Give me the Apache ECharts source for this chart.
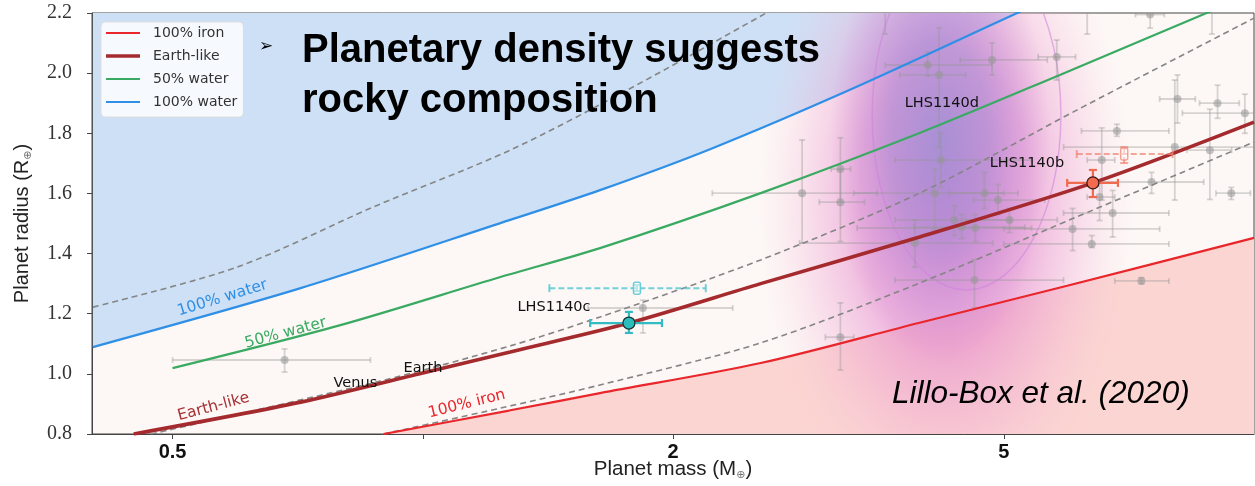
<!DOCTYPE html>
<html><head><meta charset="utf-8">
<script src="https://cdn.jsdelivr.net/npm/echarts@6/dist/echarts.min.js"></script>
<style>html,body{margin:0;padding:0;background:#fff}#c{width:1255px;height:486px}</style>
</head><body><div id="c"></div>
<script>
// ---------- data ----------
const xTickValues = [0.5, 1, 2, 5];
const xLabelValues = [0.5, 2, 5];
const yTickValues = [0.8, 1.0, 1.2, 1.4, 1.6, 1.8, 2.0, 2.2];

// composition curves [mass (M_earth), radius (R_earth)]
const ironCurve = [[0.897,0.80],[1.27,0.878],[1.634,0.936],[2.55,1.036],[3.96,1.170],[5.96,1.293],[10,1.452]];
const earthLikeCurve = [[0.449,0.80],[0.713,0.906],[1.0,1.003],[1.274,1.073],[1.77,1.169],[2.55,1.300],[3.96,1.455],[6.40,1.635],[10,1.837]];
const water50Curve = [[0.5,1.019],[0.796,1.162],[1.24,1.322],[1.634,1.418],[2.55,1.601],[3.96,1.801],[5.84,1.994],[8.77,2.2],[9.6,2.24]];
const water100Curve = [[0.401,1.089],[0.713,1.285],[1.274,1.512],[1.634,1.611],[2.22,1.748],[3.26,1.944],[5.19,2.2],[5.8,2.26]];
// iso-density dashed curves
const densityHighCurve = [[0.897,0.80],[1.24,0.886],[1.634,0.963],[2.55,1.103],[3.96,1.302],[6.12,1.522],[10,1.771]];
const densityMidCurve = [[0.471,0.80],[0.889,0.976],[1.274,1.093],[1.634,1.189],[2.55,1.379],[3.96,1.601],[6.12,1.877],[10,2.183]];
const densityLowCurve = [[0.401,1.222],[0.598,1.355],[0.872,1.555],[1.274,1.744],[1.79,1.954],[2.59,2.2],[2.75,2.24]];

// known planets: [mass, radius, massLo, massHi, radiusLo, radiusHi]
const knownPlanets = [
  [0.682,1.046,0.50,0.865,1.006,1.083],
  [1.84,1.219,1.58,2.36,1.136,1.245],
  [2.86,1.601,2.23,3.52,1.435,1.778],
  [3.18,1.681,3.10,3.27,1.571,1.785],
  [3.18,1.571,3.00,3.40,1.44,1.68],
  [3.18,1.122,3.05,3.30,1.013,1.236],
  [3.91,1.435,2.84,4.85,1.355,1.512],
  [4.05,2.027,3.60,4.84,1.99,2.07],
  [4.18,1.994,3.75,4.50,1.754,2.15],
  [4.84,2.044,4.43,5.64,1.994,2.10],
  [5.79,2.054,5.50,6.10,1.977,2.11],
  [4.13,1.601,3.30,5.00,1.48,1.68],
  [4.74,1.601,4.30,5.20,1.55,1.67],
  [4.92,1.578,4.60,5.60,1.53,1.63],
  [4.36,1.512,3.70,5.10,1.46,1.56],
  [4.45,1.488,3.90,5.30,1.45,1.53],
  [4.62,1.485,3.33,5.40,1.44,1.53],
  [5.08,1.512,4.50,5.80,1.47,1.55],
  [4.61,1.312,3.70,5.90,1.22,1.38],
  [4.20,1.711,3.70,5.40,1.62,1.80],
  [8.09,1.914,7.70,8.50,1.834,1.994],
  [9.04,1.90,8.60,9.60,1.85,1.96],
  [9.75,1.867,8.20,10.5,1.80,1.93],
  [6.84,1.808,6.20,7.90,1.79,1.83],
  [8.03,1.754,5.90,10.5,1.578,1.977],
  [8.85,1.744,8.30,9.40,1.58,1.88],
  [6.56,1.711,6.30,6.80,1.578,1.818],
  [7.53,1.638,6.50,8.70,1.60,1.67],
  [6.52,1.588,6.30,6.80,1.51,1.64],
  [9.39,1.601,9.00,9.90,1.58,1.62],
  [6.76,1.535,5.90,7.90,1.455,1.61],
  [6.05,1.482,5.00,7.70,1.41,1.55],
  [6.38,1.432,5.00,7.90,1.42,1.46],
  [7.32,1.309,6.80,7.90,1.30,1.32],
  [3.60,2.30,3.30,3.90,2.13,2.45],
  [6.30,2.30,6.00,6.60,2.13,2.45],
  [7.50,2.195,7.20,7.80,2.15,2.25],
  [8.90,2.30,8.60,9.20,2.13,2.45]
];
// LHS 1140 planets (this work / previous)
const lhs1140c = [[1.77,1.169,1.59,1.94,1.136,1.206]];
const lhs1140cPrev = [[1.81,1.285,1.42,2.19,1.275,1.295]];
const lhs1140b = [[6.40,1.635,5.96,6.86,1.588,1.678]];
const lhs1140bPrev = [[6.98,1.731,6.12,7.98,1.701,1.754]];
// LHS 1140 d predicted density: [centerMass, centerRadius, massLeft, massRight, radiusBottom, radiusTop]
const lhs1140dHalo = [[4.25,1.578,2.51,7.19,0.481,2.676]];
const lhs1140dCore = [[4.19,1.778,3.09,5.68,1.046,2.509]];
const lhs1140dContour = [[4.51,1.861,3.48,5.87,1.279,2.443]];

// annotations
const curveLabelNames = ['100% water','50% water','Earth-like','100% iron'];
const curveLabelPos = [[0.574,1.252],[0.684,1.136],[0.560,0.890],[1.13,0.900]];
const bodyLabelNames = ['Venus','Earth','LHS1140c','LHS1140d','LHS1140b'];
const bodyLabelPos = [[0.781,0.970],[0.948,1.019],[1.30,1.222],[3.80,1.901],[4.81,1.701]];

// ---------- chart ----------
const chart = echarts.init(document.getElementById('c'), null, {renderer:'canvas'});

function errorBarRender(st){
  return function(params, api){
    const m=api.value(0), r=api.value(1), mlo=api.value(2), mhi=api.value(3), rlo=api.value(4), rhi=api.value(5);
    const c=api.coord([m,r]);
    const xl=api.coord([mlo,r])[0], xh=api.coord([mhi,r])[0];
    const yl=api.coord([m,rlo])[1], yh=api.coord([m,rhi])[1];
    const ls={stroke:st.color, lineWidth:st.width, lineDash:st.dash||null};
    const k=st.cap;
    const cs={stroke:st.color,lineWidth:st.width};
    const ch=[
      {type:'line',shape:{x1:xl,y1:c[1],x2:xh,y2:c[1]},style:ls},
      {type:'line',shape:{x1:c[0],y1:yl,x2:c[0],y2:yh},style:ls},
      {type:'line',shape:{x1:xl,y1:c[1]-k,x2:xl,y2:c[1]+k},style:cs},
      {type:'line',shape:{x1:xh,y1:c[1]-k,x2:xh,y2:c[1]+k},style:cs},
      {type:'line',shape:{x1:c[0]-k,y1:yl,x2:c[0]+k,y2:yl},style:cs},
      {type:'line',shape:{x1:c[0]-k,y1:yh,x2:c[0]+k,y2:yh},style:cs}
    ];
    if(st.marker==='circle'){
      ch.push({type:'circle',shape:{cx:c[0],cy:c[1],r:st.size},style:{fill:st.fill,stroke:st.stroke||null,lineWidth:st.strokeWidth||0}});
    } else if(st.marker==='rect'){
      ch.push({type:'rect',shape:{x:c[0]-3.5,y:c[1]-6,width:7,height:12,r:2},style:{fill:'rgba(255,255,255,0.5)',stroke:st.color,lineWidth:1.5}});
    }
    const cw=params.coordSys;
    return {type:'group',clipPath:{type:'rect',shape:{x:cw.x,y:cw.y,width:cw.width,height:cw.height}},children:ch};
  };
}
function errSeries(name,data,st,z){
  return {type:'custom',name,data,z,clip:true,renderItem:errorBarRender(st),encode:{x:0,y:1},silent:true};
}

function blobRender(stops){
  return function(params,api){
    const xl=api.coord([api.value(2),api.value(1)])[0], xr=api.coord([api.value(3),api.value(1)])[0];
    const yb=api.coord([api.value(0),api.value(4)])[1], yt=api.coord([api.value(0),api.value(5)])[1];
    const rx=(xr-xl)/2, ry=(yb-yt)/2;
    const cs=params.coordSys;
    return {type:'group',clipPath:{type:'rect',shape:{x:cs.x,y:cs.y,width:cs.width,height:cs.height}},
      children:[{type:'circle',x:(xl+xr)/2,y:(yb+yt)/2,scaleY:ry/rx,shape:{cx:0,cy:0,r:rx},
        style:{fill:new echarts.graphic.RadialGradient(0.5,0.5,0.5,stops)}}]};
  };
}

const curveLabelStyle = {
  '100% water':{color:'#2f8fe6',rot:17},
  '50% water':{color:'#3aaa62',rot:15},
  'Earth-like':{color:'#a83236',rot:15},
  '100% iron':{color:'#e8262b',rot:14}
};

function lineSeries(name,data,color,width,dash,z){
  return {type:'line',name,data,symbol:'none',showSymbol:false,smooth:0.3,
    lineStyle:{color,width,type:dash?[6,4]:'solid'},itemStyle:{color},z,clip:true,silent:true};
}

const option = {
  animation:false,
  textStyle:{fontFamily:'DejaVu Sans'},
  title:[
    {text:'Planetary density suggests\nrocky composition',left:297,top:21,
      textStyle:{fontFamily:'Liberation Sans',fontSize:40,fontWeight:'bold',color:'#000',lineHeight:50}},
    {text:'➢',left:254,top:33,textStyle:{fontFamily:'DejaVu Sans',fontSize:17,fontWeight:'normal',color:'#000'}},
    {text:'Lillo-Box et al. (2020)',left:887,top:373,
      textStyle:{fontFamily:'Liberation Sans',fontSize:31.5,fontStyle:'italic',fontWeight:'normal',color:'#000'}}
  ],
  legend:{
    data:[
      {name:'100% iron',icon:'path://M0,0h34v2.2h-34z'},
      {name:'Earth-like',icon:'path://M0,0h34v3.6h-34z'},
      {name:'50% water',icon:'path://M0,0h34v2.2h-34z'},
      {name:'100% water',icon:'path://M0,0h34v2.2h-34z'}
    ],
    orient:'vertical',left:101,top:22,padding:[4,6,8,5],itemGap:9,itemWidth:34,itemHeight:14,
    backgroundColor:'rgba(255,255,255,0.82)',borderColor:'#dcdcdc',borderWidth:1,borderRadius:4,
    textStyle:{fontFamily:'DejaVu Sans',fontSize:14,color:'#333',padding:[0,0,0,8]},
    selectedMode:false
  },
  grid:{left:92,top:13,right:1,bottom:52,show:true,backgroundColor:'#fdf8f6',borderColor:'#444',borderWidth:1,
    containLabel:false,outerBoundsMode:'none'},
  xAxis:{type:'log',logBase:10,min:0.4,max:10,
    name:'Planet mass (M{s|⊕})',nameLocation:'middle',nameGap:23,nameMoveOverlap:false,
    nameTextStyle:{fontFamily:'Liberation Sans',fontSize:20.5,color:'#222',lineHeight:24,
      rich:{s:{fontFamily:'DejaVu Sans',fontSize:11,color:'#777',verticalAlign:'bottom',lineHeight:13}}},
    axisLine:{show:true,lineStyle:{color:'#444',width:1}},
    axisTick:{show:true,length:5,lineStyle:{color:'#444'},customValues:xTickValues},
    axisLabel:{show:true,customValues:xLabelValues,margin:8,fontFamily:'Liberation Sans',fontSize:20,fontWeight:'bold',color:'#111',
      formatter:function(v){return String(v);}},
    minorTick:{show:false},splitLine:{show:false},minorSplitLine:{show:false}
  },
  yAxis:{type:'value',min:0.8,max:2.2,interval:0.2,
    name:'Planet radius (R{s|⊕})',nameLocation:'middle',nameGap:58,
    nameTextStyle:{fontFamily:'Liberation Sans',fontSize:20,color:'#222',lineHeight:24,
      rich:{s:{fontFamily:'DejaVu Sans',fontSize:11,color:'#777',verticalAlign:'bottom',lineHeight:13}}},
    axisLine:{show:true,lineStyle:{color:'#444',width:1}},
    axisTick:{show:true,length:5,lineStyle:{color:'#444'}},
    axisLabel:{margin:20,fontFamily:'Liberation Serif',fontSize:20,color:'#333',
      formatter:function(v){return v.toFixed(1);}},
    splitLine:{show:false}
  },
  series:[
    // composition region fills
    {type:'line',name:'waterRegion',data:water100Curve,symbol:'none',smooth:0.3,
      lineStyle:{width:0},areaStyle:{origin:'end',color:'#cde0f6',opacity:1},z:1,silent:true},
    {type:'line',name:'ironRegion',data:ironCurve,symbol:'none',smooth:0.3,
      lineStyle:{width:0},areaStyle:{origin:'start',color:'#fbd5d1',opacity:1},z:1,silent:true},
    // LHS1140d predicted density
    {type:'custom',name:'densityHalo',data:lhs1140dHalo,z:2,clip:true,silent:true,encode:{x:0,y:1},
      renderItem:blobRender([
        {offset:0,color:'rgba(212,118,205,0.78)'},
        {offset:0.45,color:'rgba(228,135,205,0.6)'},
        {offset:0.72,color:'rgba(240,170,212,0.34)'},
        {offset:1,color:'rgba(248,205,222,0)'}])},
    {type:'custom',name:'densityCore',data:lhs1140dCore,z:2,clip:true,silent:true,encode:{x:0,y:1},
      renderItem:blobRender([
        {offset:0,color:'rgba(155,140,212,0.82)'},
        {offset:0.45,color:'rgba(165,133,210,0.6)'},
        {offset:0.75,color:'rgba(188,126,210,0.28)'},
        {offset:1,color:'rgba(200,130,210,0)'}])},
    {type:'custom',name:'contour',data:lhs1140dContour,z:3,clip:true,silent:true,encode:{x:0,y:1},
      renderItem:function(params,api){
        const c=api.coord([api.value(0),api.value(1)]);
        const xl=api.coord([api.value(2),api.value(1)])[0], xr=api.coord([api.value(3),api.value(1)])[0];
        const yb=api.coord([api.value(0),api.value(4)])[1], yt=api.coord([api.value(0),api.value(5)])[1];
        const cs=params.coordSys;
        return {type:'group',clipPath:{type:'rect',shape:{x:cs.x,y:cs.y,width:cs.width,height:cs.height}},
          children:[{type:'ellipse',shape:{cx:c[0],cy:c[1],rx:(xr-xl)/2,ry:(yb-yt)/2},
          style:{fill:null,stroke:'rgba(205,130,220,0.55)',lineWidth:1.5}}]};
      }},
    errSeries('known',knownPlanets,{color:'rgba(150,150,150,0.38)',width:1.8,cap:3,marker:'circle',size:4,fill:'rgba(150,150,150,0.55)'},4),
    // iso-density curves
    lineSeries('rhoLow',densityLowCurve,'#858585',1.6,true,5),
    lineSeries('rhoMid',densityMidCurve,'#858585',1.6,true,5),
    lineSeries('rhoHigh',densityHighCurve,'#858585',1.6,true,5),
    // composition curves
    lineSeries('100% iron',ironCurve,'#e8262b',2.2,false,6),
    lineSeries('Earth-like',earthLikeCurve,'#a52a2e',3.6,false,6),
    lineSeries('50% water',water50Curve,'#3aaa62',2.2,false,6),
    lineSeries('100% water',water100Curve,'#2f8fe6',2.2,false,6),
    // LHS 1140 planets
    errSeries('cPrev',lhs1140cPrev,{color:'rgba(90,200,210,0.85)',width:2,cap:4,dash:[6,3],marker:'rect'},7),
    errSeries('bPrev',lhs1140bPrev,{color:'rgba(240,130,110,0.7)',width:2,cap:4,dash:[6,3],marker:'rect'},7),
    errSeries('c',lhs1140c,{color:'#31bcc4',width:2.2,cap:4,marker:'circle',size:6,fill:'#2bbcbc',stroke:'#1b3535',strokeWidth:1.3},8),
    errSeries('b',lhs1140b,{color:'#ef6a4e',width:2.2,cap:4,marker:'circle',size:6,fill:'#f26a4f',stroke:'#3a1a14',strokeWidth:1.3},8),
    // labels
    {type:'custom',name:'curveLabels',z:9,silent:true,clip:true,
      data:curveLabelPos.map((p,i)=>({name:curveLabelNames[i],value:p})),
      renderItem:function(params,api){
        const nm=curveLabelNames[params.dataIndex];
        const c=api.coord([api.value(0),api.value(1)]);
        const s=curveLabelStyle[nm];
        return {type:'text',x:c[0],y:c[1],rotation:s.rot*Math.PI/180,
          style:{text:nm,fill:s.color,font:'15.5px "DejaVu Sans"',align:'center',verticalAlign:'middle'}};
      }},
    {type:'custom',name:'bodyLabels',z:9,silent:true,clip:true,
      data:bodyLabelPos.map((p,i)=>({name:bodyLabelNames[i],value:p})),
      renderItem:function(params,api){
        const nm=bodyLabelNames[params.dataIndex];
        const c=api.coord([api.value(0),api.value(1)]);
        return {type:'text',x:c[0],y:c[1],
          style:{text:nm,fill:'#111',font:'14.5px "DejaVu Sans"',align:'left',verticalAlign:'middle'}};
      }}
  ]
};
chart.setOption(option);
</script></body></html>
